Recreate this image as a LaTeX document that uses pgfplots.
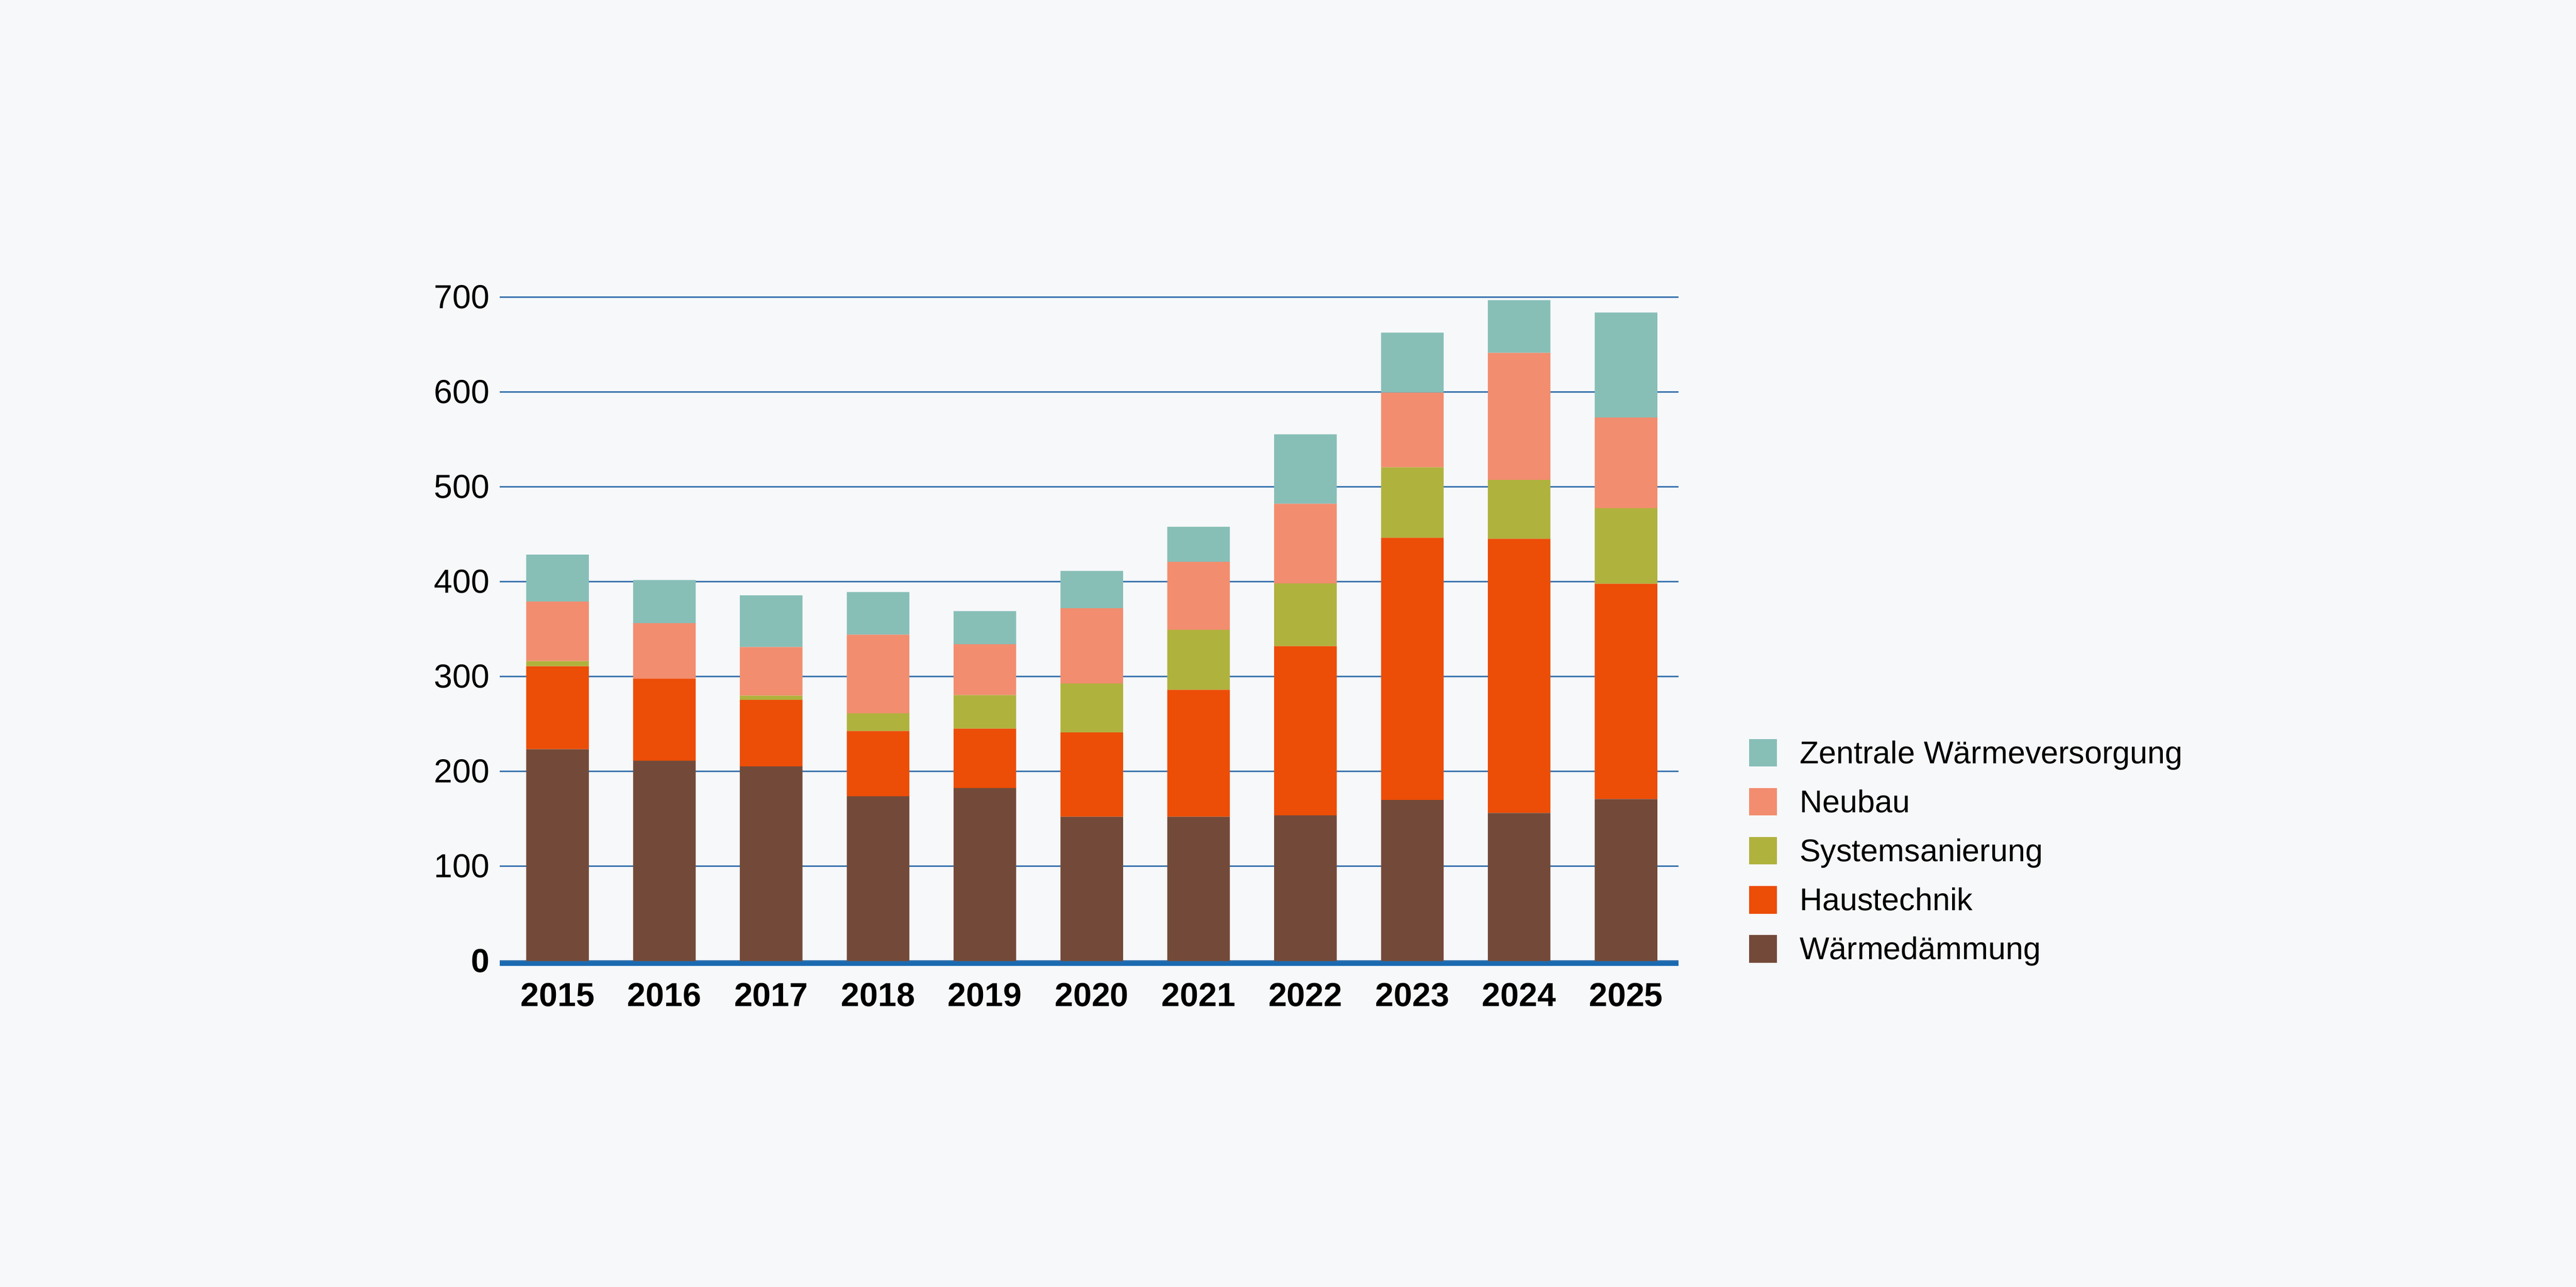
\documentclass[border=0pt]{standalone}
\usepackage{pgfplots}
\pgfplotsset{compat=1.18}
\usepackage{fontspec}
\setmainfont{Liberation Sans}
\definecolor{bgc}{HTML}{F7F8FA}
\definecolor{cbrown}{HTML}{734A39}
\definecolor{cred}{HTML}{EC4D07}
\definecolor{colive}{HTML}{B0B23E}
\definecolor{csalmon}{HTML}{F28D6F}
\definecolor{cteal}{HTML}{87BFB7}
\definecolor{cgrid}{HTML}{3A74AE}
\definecolor{cbase}{HTML}{1B6AB0}
\pgfplotsset{
  mybar/.style={fill=#1, draw=none,
    legend image code/.code={\fill[fill=#1] (0pt,-3.7pt) rectangle (7.8pt,4.0pt);}},
}
\begin{document}
\begin{tikzpicture}
\fill[bgc] (-139.7pt,-91pt) rectangle (580.3pt,268.5pt);
\begin{axis}[
  at={(0pt,0pt)}, anchor=south west,
  scale only axis,
  clip=false,
  width=329.4pt, height=185.5pt,
  xmin=-0.54, xmax=10.49,
  ymin=0, ymax=700,
  ybar stacked,
  bar width=17.5pt,
  axis x line*=bottom, axis y line*=left,
  axis line style={draw=none},
  major tick length=0pt,
  tick style={draw=none},
  xtick={0,1,2,3,4,5,6,7,8,9,10},
  xticklabels={2015,2016,2017,2018,2019,2020,2021,2022,2023,2024,2025},
  ytick={0,100,200,300,400,500,600,700},
  yticklabels={\textbf{0},100,200,300,400,500,600,700},
  ymajorgrids,
  grid style={line width=0.35pt, color=cgrid},
  /pgf/number format/assume math mode=true,
  yticklabel style={anchor=east, inner sep=0pt, xshift=-2.6pt, font=\fontsize{9.3}{11}\selectfont},
  xticklabel style={anchor=north, inner sep=0pt, yshift=-5.9pt, font=\fontsize{9.3}{11}\selectfont\bfseries},
  reverse legend,
  legend cell align=left,
  legend style={draw=none, fill=none, inner sep=0pt, column sep=6.3pt, row sep=4pt,
    at={(1.0595,-0.0097)}, anchor=south west,
    nodes={inner sep=0pt, text height=7.7pt, text depth=2pt, font=\fontsize{8.8}{10}\selectfont}},
]
\addplot[mybar=cbrown] coordinates {(0,223.3) (1,211.2) (2,205.2) (3,173.8) (4,182.4) (5,152.1) (6,152.1) (7,153.6) (8,169.8) (9,156.1) (10,170.8)};
\addplot[mybar=cred] coordinates {(0,87.5) (1,86.4) (2,70.2) (3,68.7) (4,62.7) (5,88.9) (6,133.9) (7,178.4) (8,276.4) (9,289.1) (10,226.9)};
\addplot[mybar=colive] coordinates {(0,5.5) (1,0) (2,4.5) (3,18.7) (4,35.3) (5,51.6) (6,63.2) (7,66.2) (8,74.3) (9,62.1) (10,79.8)};
\addplot[mybar=csalmon] coordinates {(0,62.7) (1,58.6) (2,51.1) (3,82.9) (4,53.6) (5,79.3) (6,71.7) (7,83.9) (8,78.8) (9,133.9) (10,95.5)};
\addplot[mybar=cteal] coordinates {(0,49.5) (1,45.5) (2,54.5) (3,45) (4,34.9) (5,39.4) (6,36.9) (7,73.2) (8,63.2) (9,55.6) (10,110.7)};
\legend{W\"armed\"ammung,Haustechnik,Systemsanierung,Neubau,Zentrale W\"armeversorgung}
\draw[cbase, line width=1.3pt] ([yshift=-0.65pt]axis cs:-0.54,0) -- ([yshift=-0.65pt]axis cs:10.49,0);
\end{axis}
\end{tikzpicture}
\end{document}
